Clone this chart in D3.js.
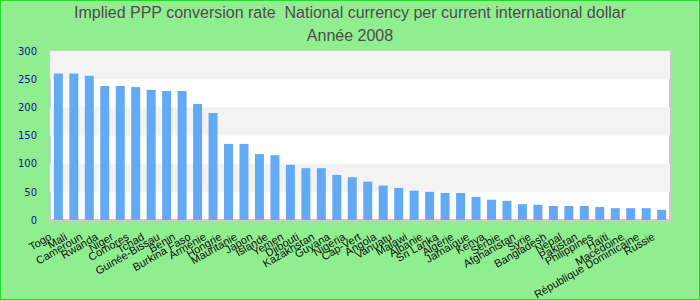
<!DOCTYPE html>
<html lang="fr">
<head>
  <meta charset="UTF-8">
  <title>Implied PPP conversion rate</title>
  <script src="https://d3js.org/d3.v7.min.js"></script>
  <style>
    body { margin: 0; }
    svg { display: block; }
    .title { white-space: pre; }
  </style>
</head>
<body>
  <div id="chart"></div>
  <script>
    const countries = ['Togo', 'Mali', 'Cameroun', 'Rwanda', 'Niger', 'Comores', 'Tchad', 'Guinée-Bissau',
      'Benin', 'Burkina Faso', 'Arménie', 'Hongrie', 'Mauritanie', 'Japon', 'Islande', 'Yemen', 'Djibouti',
      'Kazakhstan', 'Guyana', 'Nigeria', 'Cap-Vert', 'Angola', 'Vanuatu', 'Malawi', 'Albanie', 'Sri Lanka',
      'Algérie', 'Jamaïque', 'Kenya', 'Serbie', 'Afghanistan', 'Syrie', 'Bangladesh', 'Népal', 'Pakistan',
      'Philippines', 'Haïti', 'Macédoine', 'République Dominicaine', 'Russie']
    const values = [260, 260, 256, 238, 238, 236, 231, 229, 229, 206, 190, 135, 135, 117, 115, 98, 92,
      92, 80, 76, 68, 61, 57, 52, 50, 48, 48, 41, 36, 34, 28, 27, 25, 25, 25, 23, 21, 21, 21, 18]
    const yTicks = [0, 50, 100, 150, 200, 250, 300]

    const width = 700
    const height = 300
    const margin = { top: 51, right: 30, bottom: 80, left: 50 }

    const svg = d3.select('#chart')
      .append('svg')
      .attr('width', width)
      .attr('height', height)

    svg.append('rect')
      .attr('x', 0.5)
      .attr('y', 0.5)
      .attr('width', width - 1)
      .attr('height', height - 1)
      .attr('fill', '#90ee90')
      .attr('stroke', '#22dd22')

    const x = d3.scaleBand()
      .domain(countries)
      .range([margin.left, width - margin.right])
      .paddingInner(0.42)
      .paddingOuter(0.25)

    const y = d3.scaleLinear()
      .domain([0, 300])
      .range([height - margin.bottom, margin.top])

    // plot background with alternating bands
    svg.append('rect')
      .attr('x', margin.left)
      .attr('y', margin.top)
      .attr('width', width - margin.left - margin.right)
      .attr('height', y(0) - margin.top)
      .attr('fill', 'white')
      .attr('stroke', '#cccccc')
      .attr('stroke-width', 2)

    svg.selectAll('.band')
      .data(yTicks.slice(0, -1).filter((_, i) => i % 2 === 1))
      .enter()
      .append('rect')
      .attr('class', 'band')
      .attr('x', margin.left)
      .attr('y', d => y(d + 50))
      .attr('width', width - margin.left - margin.right)
      .attr('height', d => y(d) - y(d + 50))
      .attr('fill', '#f3f3f3')

    svg.selectAll('.bar')
      .data(countries)
      .enter()
      .append('rect')
      .attr('class', 'bar')
      .attr('x', d => x(d))
      .attr('y', (_, i) => y(values[i]))
      .attr('width', x.bandwidth())
      .attr('height', (_, i) => y(0) - y(values[i]))
      .attr('fill', '#62aaf4')

    svg.append('g')
      .attr('transform', `translate(${margin.left - 10},0)`)
      .call(d3.axisLeft(y).tickValues(yTicks).tickSize(0))
      .call(g => g.select('.domain').remove())
      .selectAll('text')
      .attr('fill', '#101090')
      .style('font-family', 'DejaVu Sans')
      .style('font-size', '10px')

    svg.selectAll('.xlabel')
      .data(countries)
      .enter()
      .append('text')
      .attr('class', 'xlabel')
      .attr('text-anchor', 'end')
      .attr('transform', d => `translate(${x(d) + x.bandwidth() / 2 - 6},${y(0) + 19}) rotate(-30)`)
      .style('font-family', 'Liberation Sans')
      .style('font-size', '11px')
      .attr('fill', '#111')
      .text(d => d)

    svg.append('text')
      .attr('class', 'title')
      .attr('x', width / 2)
      .attr('y', 18)
      .attr('text-anchor', 'middle')
      .style('font-family', 'Liberation Sans')
      .style('font-size', '16px')
      .attr('fill', '#4d4d4d')
      .text('Implied PPP conversion rate  National currency per current international dollar')

    svg.append('text')
      .attr('x', width / 2)
      .attr('y', 41)
      .attr('text-anchor', 'middle')
      .style('font-family', 'Liberation Sans')
      .style('font-size', '16px')
      .attr('fill', '#4d4d4d')
      .text('Année 2008')
  </script>
</body>
</html>
